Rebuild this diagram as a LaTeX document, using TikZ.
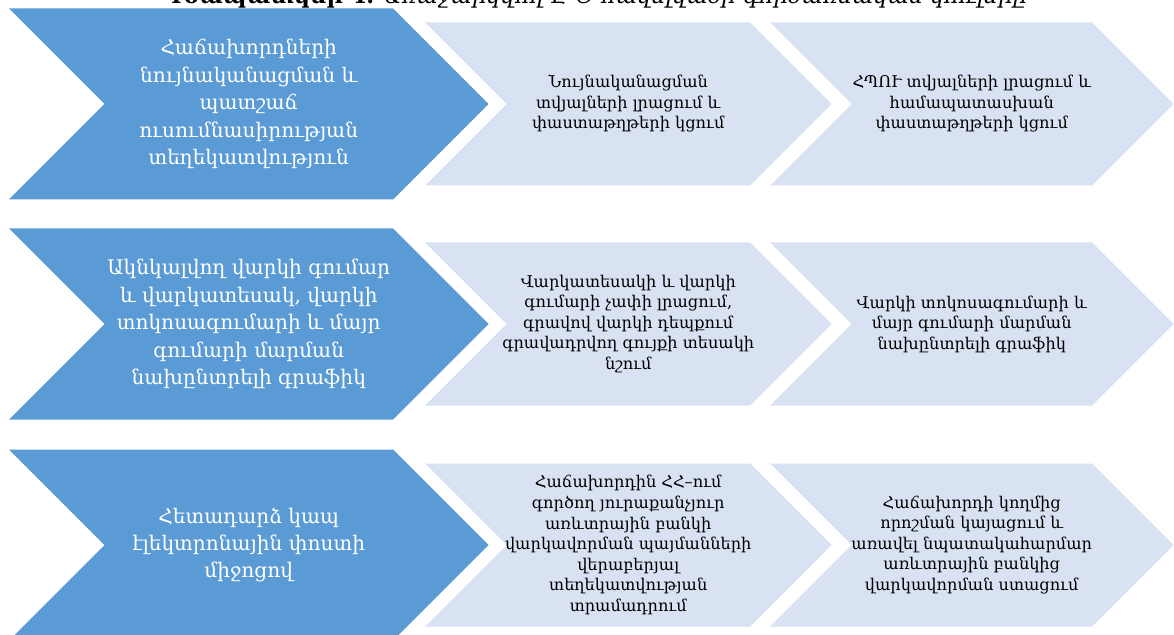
\documentclass[tikz,border=0pt]{standalone}
\usepackage{fontspec}
\setmainfont{DejaVu Serif}
\definecolor{chevdark}{RGB}{91,155,213}
\definecolor{chevlight}{RGB}{216,226,242}
\tikzset{
  darkarrow/.style={fill=chevdark},
  lightarrow/.style={fill=chevlight},
  darktext/.style={text=white, align=center, font=\fontsize{14.3}{19.5}\selectfont},
  lighttext/.style={text=black, align=center, font=\fontsize{11.5}{14.6}\selectfont},
}
% chevron: left x, top-right x, middle y, half height, style
\newcommand{\chevron}[5]{%
  \fill[#5] (#1,#3-#4) -- (#2,#3-#4) -- (#2+#4,#3) -- (#2,#3+#4) -- (#1,#3+#4) -- (#1+#4,#3) -- cycle;}
\begin{document}
\begin{tikzpicture}[x=0.025cm, y=-0.025cm]
    \useasboundingbox (0,0) rectangle (1174,635);
    \clip (0,0) rectangle (1174,635);

    % 1. Title (cut at the top edge)
    \node[anchor=base, font=\fontsize{16}{19}\selectfont] (title) at (595,3.5)
        {\textbf{Գծապատկեր 4.} \textit{Առաջարկվող Է-Օ հավելվածի գործառնական փուլերը}};

    % 2. Row 1
    \chevron{9}{393}{104}{95.5}{darkarrow}
    \chevron{425}{750}{104}{81.5}{lightarrow}
    \chevron{770}{1092}{104}{81.5}{lightarrow}
    \node[darktext] (a1) at (248.75,104) {Հաճախորդների\\նույնականացման և\\պատշաճ\\ուսումնասիրության\\տեղեկատվություն};
    \node[lighttext] (b1) at (628.25,104) {Նույնականացման\\տվյալների լրացում և\\փաստաթղթերի կցում};
    \node[lighttext] (c1) at (971.75,104) {ՀՊՈՒ տվյալների լրացում և\\համապատասխան\\փաստաթղթերի կցում};

    % 3. Row 2
    \chevron{9}{393}{324}{95.5}{darkarrow}
    \chevron{425}{750}{324}{81.5}{lightarrow}
    \chevron{770}{1092}{324}{81.5}{lightarrow}
    \node[darktext] (a2) at (248.75,324) {Ակնկալվող վարկի գումար\\և վարկատեսակ, վարկի\\տոկոսագումարի և մայր\\գումարի մարման\\նախընտրելի գրաֆիկ};
    \node[lighttext] (b2) at (628.25,324) {Վարկատեսակի և վարկի\\գումարի չափի լրացում,\\գրավով վարկի դեպքում\\գրավադրվող գույքի տեսակի\\նշում};
    \node[lighttext] (c2) at (971.75,324) {Վարկի տոկոսագումարի և\\մայր գումարի մարման\\նախընտրելի գրաֆիկ};

    % 4. Row 3
    \chevron{9}{393}{545}{95.5}{darkarrow}
    \chevron{425}{750}{545}{81.5}{lightarrow}
    \chevron{770}{1092}{545}{81.5}{lightarrow}
    \node[darktext] (a3) at (248.75,545) {Հետադարձ կապ\\էլեկտրոնային փոստի\\միջոցով};
    \node[lighttext] (b3) at (628.25,545) {Հաճախորդին ՀՀ–ում\\գործող յուրաքանչյուր\\առևտրային բանկի\\վարկավորման պայմանների\\վերաբերյալ\\տեղեկատվության\\տրամադրում};
    \node[lighttext] (c3) at (971.75,545) {Հաճախորդի կողմից\\որոշման կայացում և\\առավել նպատակահարմար\\առևտրային բանկից\\վարկավորման ստացում};
\end{tikzpicture}
\end{document}
